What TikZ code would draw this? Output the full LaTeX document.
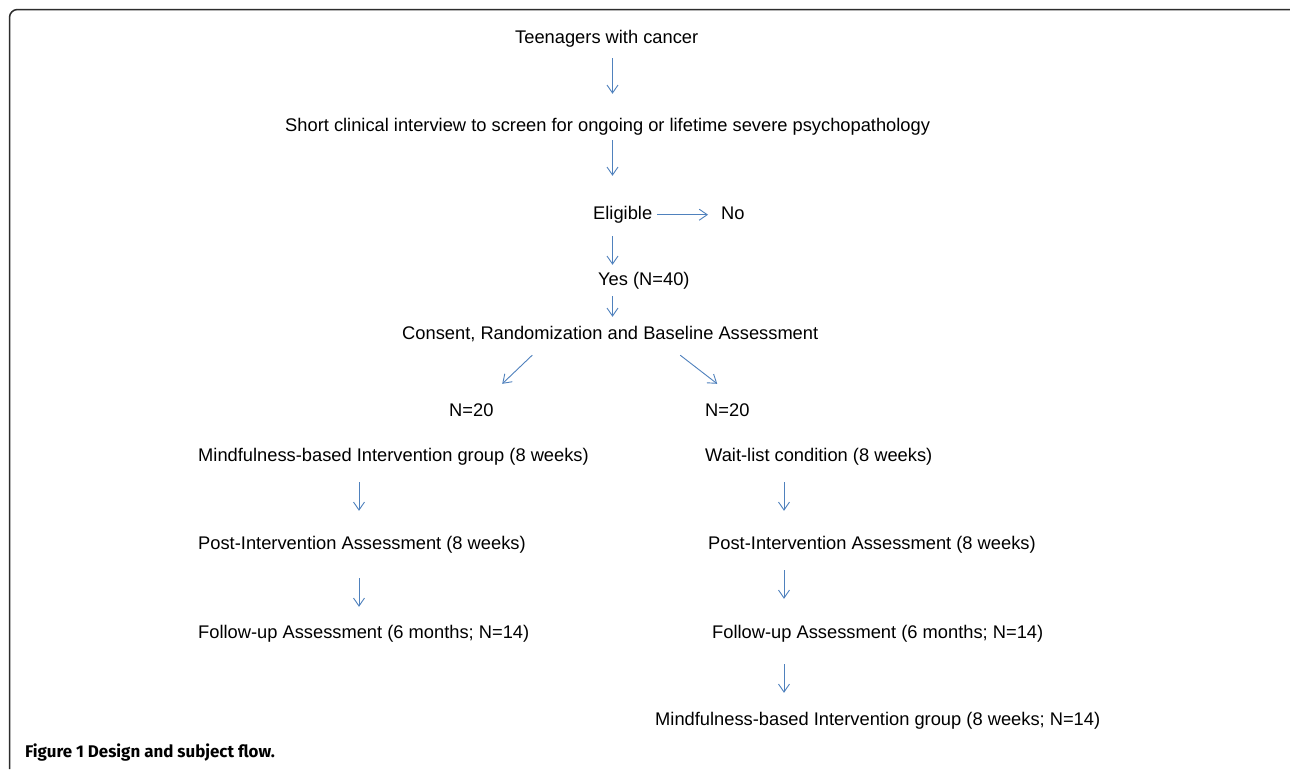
\documentclass[tikz,border=0pt]{standalone}
\usepackage{fontspec}
\setmainfont{Liberation Sans}
\newfontfamily\capfont{Fira Sans}
\usetikzlibrary{arrows.meta}
\definecolor{flowblue}{RGB}{79,129,189}
\definecolor{framegray}{RGB}{45,45,45}

\begin{document}
\begin{tikzpicture}[
    x=1pt, y=-1pt,
    lbl/.style={anchor=base west, inner sep=0pt, text height=13.4pt, text depth=3.8pt,
      font=\fontsize{18.3}{22}\selectfont},
    caption/.style={anchor=base west, inner sep=0pt, font=\capfont\fontsize{16.9}{20}\selectfont},
    flow/.style={draw=flowblue, line width=0.9pt, -{Straight Barb[length=8pt,width=11pt]}},
    frame/.style={draw=framegray, line width=1.5pt, rounded corners=8pt}]

  \useasboundingbox [fill=white] (0,0) rectangle (1290,769);

  % frame (top and left only)
  \draw [frame] (9.5,769) -- (9.5,9.5) -- (1290,9.5);

  % arrow columns
  \coordinate (mid) at (612.5,0);
  \coordinate (lcol) at (359,0);
  \coordinate (rcol) at (784,0);

  % screening
  \node [lbl] (teen) at (515,43) {Teenagers with cancer};
  \node [lbl] (screen) at (285,131.5) {Short clinical interview to screen for ongoing or lifetime severe psychopathology};
  \node [lbl] (elig) at (593,219.5) {Eligible};
  \node [lbl] (no) at (721,219.5) {No};
  \node [lbl] (yes) at (598,285.5) {Yes (N=40)};
  \node [lbl] (consent) at (402,339.5) {Consent, Randomization and Baseline Assessment};

  % two arms
  \node [lbl] (nleft) at (449,416.5) {N=20};
  \node [lbl] (nright) at (705,416.5) {N=20};
  \node [lbl] (mbi) at (198,461.5) {Mindfulness-based Intervention group (8 weeks)};
  \node [lbl] (wait) at (705,461.5) {Wait-list condition (8 weeks)};
  \node [lbl] (postl) at (198,549.5) {Post-Intervention Assessment (8 weeks)};
  \node [lbl] (postr) at (708,549.5) {Post-Intervention Assessment (8 weeks)};
  \node [lbl] (followl) at (198,638.5) {Follow-up Assessment (6 months; N=14)};
  \node [lbl] (followr) at (712,638.5) {Follow-up Assessment (6 months; N=14)};
  \node [lbl] (mbilate) at (655,725.5) {Mindfulness-based Intervention group (8 weeks; N=14)};

  % caption
  \node [caption] (cap) at (25,757.5) {\bfseries Figure 1 Design and subject flow.};

  % arrows down the middle
  \draw [flow, shorten <=11.2pt, shorten >=24.1pt] (teen.south -| mid) -- (screen.north -| mid);
  \draw [flow, shorten <=4.7pt, shorten >=30.1pt] (screen.south -| mid) -- (elig.north -| mid);
  \draw [flow, shorten <=5pt, shorten >=13pt] (elig.east) -- (no.west);
  \draw [flow, shorten <=12.7pt, shorten >=7.1pt] (elig.south -| mid) -- (yes.north -| mid);
  \draw [flow, shorten <=6.7pt, shorten >=9.1pt] (yes.south -| mid) -- (consent.north -| mid);

  % split
  \draw [flow] ([shift={(-78,11.7)}]consent.south) -- ([shift={(30.9,-19.1)}]nleft.north);
  \draw [flow] ([shift={(70,11.7)}]consent.south) -- ([shift={(-10.1,-19.1)}]nright.north);

  % left arm
  \draw [flow, shorten <=16.7pt, shorten >=25.1pt] (mbi.south -| lcol) -- (postl.north -| lcol);
  \draw [flow, shorten <=24.7pt, shorten >=18.1pt] (postl.south -| lcol) -- (followl.north -| lcol);

  % right arm
  \draw [flow, shorten <=16.7pt, shorten >=25.1pt] (wait.south -| rcol) -- (postr.north -| rcol);
  \draw [flow, shorten <=16.7pt, shorten >=26.1pt] (postr.south -| rcol) -- (followr.north -| rcol);
  \draw [flow, shorten <=21.7pt, shorten >=19.1pt] (followr.south -| rcol) -- (mbilate.north -| rcol);
\end{tikzpicture}
\end{document}
